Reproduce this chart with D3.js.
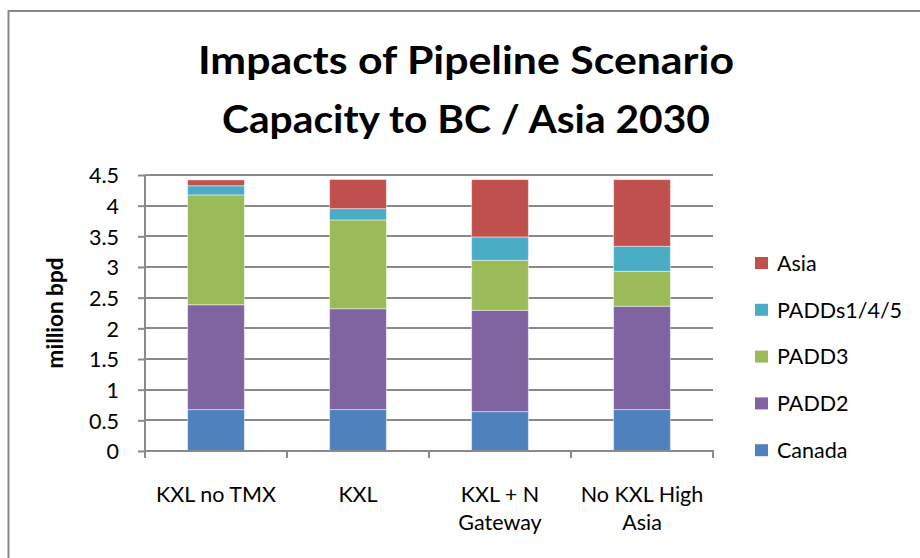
<!DOCTYPE html>
<html>
<head>
<meta charset="utf-8">
<script src="https://cdn.jsdelivr.net/npm/d3@7"></script>
<style>
  html, body { margin: 0; padding: 0; background: #fff; }
  svg { display: block; }
  text { font-family: Lato, "Open Sans", sans-serif; fill: #000; }
</style>
</head>
<body>
<svg id="chart" width="920" height="558"></svg>
<script>
const categories = [["KXL no TMX"], ["KXL"], ["KXL + N", "Gateway"], ["No KXL High", "Asia"]];
const seriesNames = ["Canada", "PADD2", "PADD3", "PADDs1/4/5", "Asia"];
const canada  = [0.675, 0.675, 0.642, 0.675];
const padd2   = [1.71, 1.645, 1.652, 1.685];
const padd3   = [1.79, 1.447, 0.815, 0.57];
const padds145 = [0.15, 0.185, 0.381, 0.408];
const asia    = [0.095, 0.475, 0.935, 1.087];
const yTicks = [0, 0.5, 1, 1.5, 2, 2.5, 3, 3.5, 4, 4.5];
const colors = ["#4F81BD", "#8064A2", "#9BBB59", "#4BACC6", "#C0504D"];
const titleLines = ["Impacts of Pipeline Scenario", "Capacity to BC / Asia 2030"];
const yTitle = "million bpd";

const seriesValues = [canada, padd2, padd3, padds145, asia];
const rows = categories.map((c, i) => {
  const r = { key: i };
  seriesNames.forEach((s, j) => r[s] = seriesValues[j][i]);
  return r;
});

const svg = d3.select("#chart");

// outer chart border
svg.append("rect").attr("x", 8.5).attr("y", 11).attr("width", 940).attr("height", 600)
  .attr("fill", "#fff").attr("stroke", "#878787").attr("stroke-width", 2);

const x = d3.scaleBand().domain(d3.range(categories.length)).range([145, 713]).paddingInner(0.6).paddingOuter(0.3);
const y = d3.scaleLinear().domain([0, 4.5]).range([451, 175]);

// gridlines
svg.append("g").selectAll("line").data(yTicks.filter(d => d > 0)).join("line")
  .attr("x1", 145).attr("x2", 713)
  .attr("y1", d => Math.round(y(d))).attr("y2", d => Math.round(y(d)))
  .attr("stroke", "#8a8a8a").attr("stroke-width", 2);

// stacked bars
const stack = d3.stack().keys(seriesNames)(rows);
svg.append("g").selectAll("g").data(stack).join("g")
  .attr("fill", (d, i) => colors[i])
  .selectAll("rect").data(d => d).join("rect")
  .attr("x", (d, i) => x(i))
  .attr("width", x.bandwidth())
  .attr("y", d => y(d[1]))
  .attr("height", d => y(d[0]) - y(d[1]))
  .attr("stroke", "rgba(255,255,255,0.45)").attr("stroke-width", 1);

// y axis
const yAxis = d3.axisLeft(y).tickValues(yTicks).tickSize(7).tickPadding(19).tickFormat(d3.format("~g"));
const gy = svg.append("g").attr("transform", "translate(145,0)").call(yAxis);
gy.select(".domain").attr("stroke", "#8a8a8a").attr("stroke-width", 2).attr("d", `M0,${y(4.5)}V${y(0)}`);
gy.selectAll(".tick line").attr("stroke", "#8a8a8a").attr("stroke-width", 2);
gy.selectAll(".tick text").style("font-family", "Lato, sans-serif").style("font-size", "21.5px").attr("fill", "#000").attr("dy", "0.36em");

// x axis
const xEdge = d3.scaleLinear().domain([0, categories.length]).range([145, 713]);
const gx = svg.append("g");
gx.append("line").attr("x1", 145).attr("x2", 714).attr("y1", 451).attr("y2", 451)
  .attr("stroke", "#8a8a8a").attr("stroke-width", 2);
gx.selectAll("line.t").data(d3.range(categories.length + 1)).join("line").attr("class", "t")
  .attr("x1", d => xEdge(d)).attr("x2", d => xEdge(d)).attr("y1", 451).attr("y2", 458)
  .attr("stroke", "#8a8a8a").attr("stroke-width", 2);
const xl = gx.selectAll("text").data(categories).join("text")
  .attr("text-anchor", "middle")
  .style("font-size", "21.5px");
xl.each(function(lines, i) {
  d3.select(this).selectAll("tspan").data(lines).join("tspan")
    .attr("x", x(i) + x.bandwidth() / 2)
    .attr("y", (d, k) => 502 + k * 28)
    .text(d => d);
});

// y title
svg.append("text").attr("transform", "translate(63,313) rotate(-90)")
  .attr("text-anchor", "middle").style("font-size", "22.5px").style("font-weight", "bold").text(yTitle);

// title
const tl = svg.append("g");
titleLines.forEach((t, i) => {
  const el = tl.append("text").attr("x", 466).attr("y", 74 + i * 59)
    .attr("text-anchor", "middle").style("font-size", "39px").style("font-weight", "bold").text(t);
  const target = i === 0 ? 536 : 488;
  const w = el.node().getComputedTextLength();
  if (Math.abs(w - target) > 4) el.attr("textLength", target).attr("lengthAdjust", "spacingAndGlyphs");
});

// legend
const legendOrder = [4, 3, 2, 1, 0];
const lg = svg.append("g").selectAll("g").data(legendOrder).join("g")
  .attr("transform", (d, k) => `translate(755,${263 + k * 46.8})`);
lg.append("rect").attr("x", 0).attr("y", -6).attr("width", 13).attr("height", 12).attr("fill", d => colors[d]);
lg.append("text").attr("x", 22).attr("y", 0).attr("dy", "0.36em").style("font-size", "21.5px").text(d => seriesNames[d]);
</script>
</body>
</html>
